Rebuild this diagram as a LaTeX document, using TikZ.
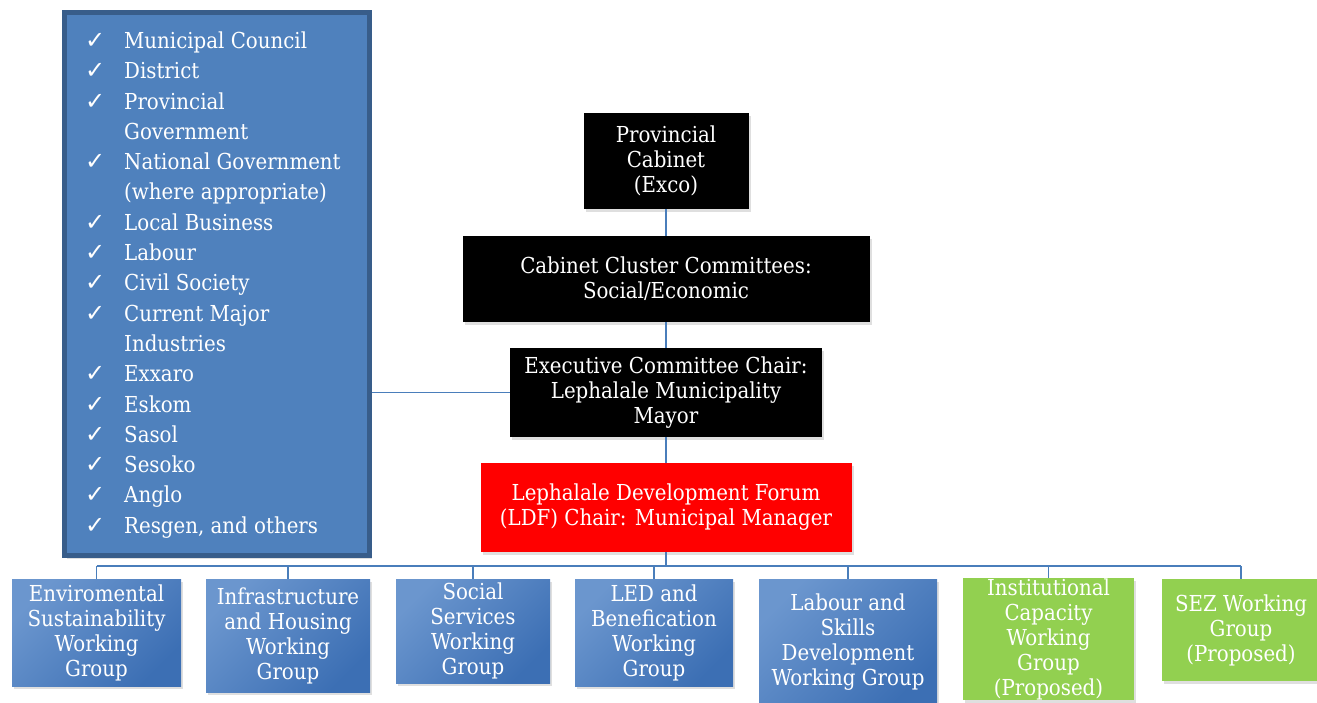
\documentclass[tikz,border=0pt]{standalone}
\usepackage{fontspec}
\setmainfont{DejaVu Serif Condensed}
\newfontfamily\checkfont{DejaVu Sans}
\usetikzlibrary{shadows}

\definecolor{listblue}{HTML}{4F81BD}
\definecolor{listedge}{HTML}{385D8A}
\definecolor{linkblue}{HTML}{4A7EBB}
\definecolor{wgtop}{HTML}{6B96CE}
\definecolor{wgbottom}{HTML}{3C6FB4}
\definecolor{wggreen}{HTML}{92D050}

\newcommand{\ck}{{\checkfont\fontsize{24}{24}\selectfont ✓}}

\tikzset{
  link/.style={draw=linkblue, line width=1.5pt},
  softshadow/.style={drop shadow={shadow xshift=2pt, shadow yshift=-3pt, opacity=0.25}},
  chairbox/.style={rectangle, fill=black, text=white, align=center, inner sep=0pt,
    font=\fontsize{22}{25}\selectfont, softshadow},
  forumbox/.style={chairbox, fill=red},
  wgbox/.style={rectangle, text=white, align=center, inner sep=0pt,
    font=\fontsize{22}{25}\selectfont, softshadow,
    top color=wgtop, bottom color=wgbottom, shading angle=45},
  wgnew/.style={rectangle, fill=wggreen, text=white, align=center, inner sep=0pt,
    font=\fontsize{22}{25}\selectfont, softshadow}
}

\begin{document}
\begin{tikzpicture}[x=1pt,y=-1pt]
\useasboundingbox (0,0) rectangle (1317,702);

% stakeholders
\node[rectangle, fill=listblue, draw=listedge, line width=4.5pt, inner sep=0pt,
  minimum width=305pt, minimum height=543pt, softshadow] (members) at (217,284) {};
\node[anchor=north west, inner sep=0pt, text=white, align=left] (memberlist) at (85,27)
{\fontsize{22}{30.3}\selectfont
 \begin{tabular}{@{}p{39pt}@{}l@{}}
 \ck & Municipal Council\\
 \ck & District\\
 \ck & Provincial\\
     & Government\\
 \ck & National Government\\
     & (where appropriate)\\
 \ck & Local Business\\
 \ck & Labour\\
 \ck & Civil Society\\
 \ck & Current Major\\
     & Industries\\
 \ck & Exxaro\\
 \ck & Eskom\\
 \ck & Sasol\\
 \ck & Sesoko\\
 \ck & Anglo\\
 \ck & Resgen, and others
 \end{tabular}};

% chain of command
\node[chairbox, minimum width=165pt, minimum height=96pt] (cabinet) at (666,161)
  {Provincial\\Cabinet\\(Exco)};
\node[chairbox, minimum width=407pt, minimum height=86pt] (cluster) at (666,279)
  {Cabinet Cluster Committees:\\Social/Economic};
\node[chairbox, minimum width=312pt, minimum height=89pt] (exco) at (666,392.5)
  {Executive Committee Chair:\\Lephalale Municipality\\Mayor};
\node[forumbox, minimum width=371pt, minimum height=89pt] (ldf) at (666,507.5)
  {Lephalale Development Forum\\(LDF) Chair: Municipal Manager};

% working groups
\node[wgbox, minimum width=169pt, minimum height=107pt] (wg1) at (96.5,632.5)
  {Enviromental\\Sustainability\\Working\\Group};
\node[wgbox, minimum width=164pt, minimum height=113pt] (wg2) at (288,635.5)
  {Infrastructure\\and Housing\\Working\\Group};
\node[wgbox, minimum width=154pt, minimum height=104pt] (wg3) at (473,631)
  {Social\\Services\\Working\\Group};
\node[wgbox, minimum width=158pt, minimum height=107pt] (wg4) at (654,632.5)
  {LED and\\Benefication\\Working\\Group};
\node[wgbox, minimum width=178pt, minimum height=126pt] (wg5) at (848,642)
  {Labour and\\Skills\\Development\\Working Group};
\node[wgnew, minimum width=171pt, minimum height=120pt] (wg6) at (1048.5,639)
  {Institutional\\Capacity\\Working\\Group\\(Proposed)};
\node[wgnew, minimum width=158pt, minimum height=102pt] (wg7) at (1241,630)
  {SEZ Working\\Group\\(Proposed)};

% connectors
\coordinate (bus) at (666,566);
\draw[link] (cabinet) -- (cluster);
\draw[link] (cluster) -- (exco);
\draw[link] (exco) -- (ldf);
\draw[link] (exco.west) -- (exco.west -| members.east);
\draw[link] (ldf.south) -- (bus);
\draw[link] (wg1.north |- bus) -- (wg7.north |- bus);
\foreach \g in {wg1,wg2,wg3,wg4,wg5,wg6,wg7}
  \draw[link] (\g.north) -- (\g.north |- bus);
\end{tikzpicture}
\end{document}
